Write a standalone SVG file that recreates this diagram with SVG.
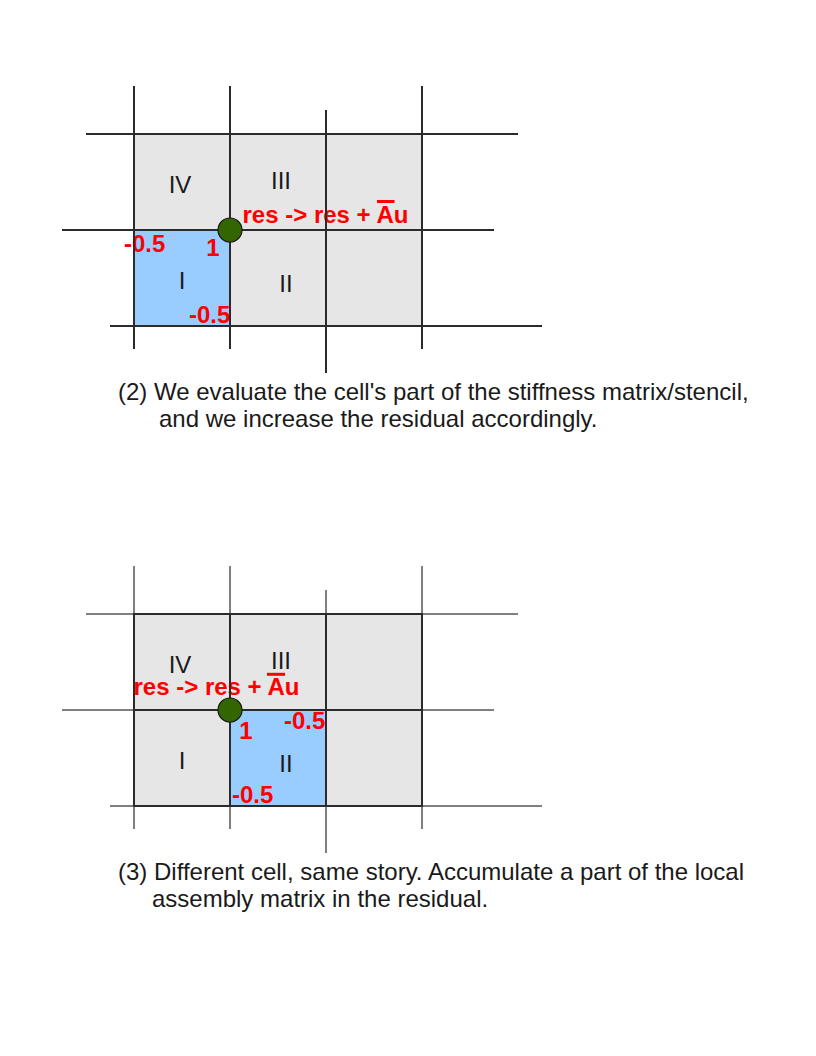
<svg xmlns="http://www.w3.org/2000/svg" width="816" height="1056" viewBox="0 0 816 1056">
  <style>
    .bg { fill: #ffffff; }
    .cell { fill: #e6e6e6; }
    .active { fill: #99ccff; }
    .border { fill: none; stroke: #2b2b2b; stroke-width: 2; }
    .gridA { stroke: #2b2b2b; stroke-width: 2; fill: none; }
    .gridB { stroke: #808080; stroke-width: 2; fill: none; }
    .node { fill: #336600; stroke: #1a1a1a; stroke-width: 1.2; }
    .roman { font-family: "Liberation Sans", Arial, sans-serif; font-size: 24px; fill: #1a1a1a; text-anchor: middle; }
    .red { font-family: "Liberation Sans", Arial, sans-serif; font-size: 24px; font-weight: bold; fill: #ff0000; }
    .bar { stroke: #ff0000; stroke-width: 3; }
    .caption { font-family: "Liberation Sans", Arial, sans-serif; font-size: 24px; fill: #1a1a1a; }
  </style>
  <rect class="bg" x="0" y="0" width="816" height="1056"/>

  <!-- ============ Panel (2) ============ -->
  <g id="panel2">
    <g id="p2-cells">
      <rect class="cell" x="134" y="134" width="96" height="96"/>
      <rect class="cell" x="230" y="134" width="96" height="96"/>
      <rect class="cell" x="326" y="134" width="96" height="96"/>
      <rect class="active" x="134" y="230" width="96" height="96"/>
      <rect class="cell" x="230" y="230" width="96" height="96"/>
      <rect class="cell" x="326" y="230" width="96" height="96"/>
    </g>
    <g id="p2-labels">
      <text class="roman" x="180" y="193">IV</text>
      <text class="roman" x="281" y="189">III</text>
      <text class="roman" x="182" y="289">I</text>
      <text class="roman" x="286" y="292">II</text>
    </g>
    <g id="p2-annot">
      <text class="red" x="242.5" y="222.7">res -&gt; res + Au</text>
      <line class="bar" x1="377" y1="201.5" x2="394.5" y2="201.5"/>
      <text class="red" x="124" y="252.3">-0.5</text>
      <text class="red" x="213" y="255.7" text-anchor="middle">1</text>
      <text class="red" x="189" y="323.3">-0.5</text>
    </g>
    <g id="p2-grid">
      <line class="gridA" x1="134" y1="86" x2="134" y2="349"/>
      <line class="gridA" x1="230" y1="86" x2="230" y2="349"/>
      <line class="gridA" x1="326" y1="110" x2="326" y2="373"/>
      <line class="gridA" x1="422" y1="86" x2="422" y2="349"/>
      <line class="gridA" x1="86" y1="134" x2="518" y2="134"/>
      <line class="gridA" x1="62" y1="230" x2="494" y2="230"/>
      <line class="gridA" x1="110" y1="326" x2="542" y2="326"/>
    </g>
    <g id="p2-node">
      <circle class="node" cx="230" cy="230" r="12"/>
    </g>
    <g id="p2-caption">
      <text class="caption" x="118" y="400">(2) We evaluate the cell's part of the stiffness matrix/stencil,</text>
      <text class="caption" x="159" y="427">and we increase the residual accordingly.</text>
    </g>
  </g>

  <!-- ============ Panel (3) ============ -->
  <g id="panel3">
    <g id="p3-cells">
      <rect class="cell" x="134" y="614" width="96" height="96"/>
      <rect class="cell" x="230" y="614" width="96" height="96"/>
      <rect class="cell" x="326" y="614" width="96" height="96"/>
      <rect class="cell" x="134" y="710" width="96" height="96"/>
      <rect class="active" x="230" y="710" width="96" height="96"/>
      <rect class="cell" x="326" y="710" width="96" height="96"/>
    </g>
    <g id="p3-labels">
      <text class="roman" x="180" y="673.3">IV</text>
      <text class="roman" x="281" y="669.3">III</text>
      <text class="roman" x="182" y="769.3">I</text>
      <text class="roman" x="286" y="771.7">II</text>
    </g>
    <g id="p3-annot">
      <text class="red" x="133.5" y="695">res -&gt; res + Au</text>
      <line class="bar" x1="267" y1="674.3" x2="285" y2="674.3"/>
      <text class="red" x="284" y="729">-0.5</text>
      <text class="red" x="246" y="739.3" text-anchor="middle">1</text>
      <text class="red" x="232" y="803.3">-0.5</text>
    </g>
    <g id="p3-grid">
      <line class="gridB" x1="134" y1="566" x2="134" y2="829"/>
      <line class="gridB" x1="230" y1="566" x2="230" y2="829"/>
      <line class="gridB" x1="326" y1="590" x2="326" y2="853"/>
      <line class="gridB" x1="422" y1="566" x2="422" y2="829"/>
      <line class="gridB" x1="86" y1="614" x2="518" y2="614"/>
      <line class="gridB" x1="62" y1="710" x2="494" y2="710"/>
      <line class="gridB" x1="110" y1="806" x2="542" y2="806"/>
      <rect class="border" x="134" y="614" width="96" height="96"/>
      <rect class="border" x="230" y="614" width="96" height="96"/>
      <rect class="border" x="326" y="614" width="96" height="96"/>
      <rect class="border" x="134" y="710" width="96" height="96"/>
      <rect class="border" x="230" y="710" width="96" height="96"/>
      <rect class="border" x="326" y="710" width="96" height="96"/>
    </g>
    <g id="p3-node">
      <circle class="node" cx="230" cy="710" r="12"/>
    </g>
    <g id="p3-caption">
      <text class="caption" x="118" y="880">(3) Different cell, same story. Accumulate a part of the local</text>
      <text class="caption" x="152" y="907">assembly matrix in the residual.</text>
    </g>
  </g>
</svg>
